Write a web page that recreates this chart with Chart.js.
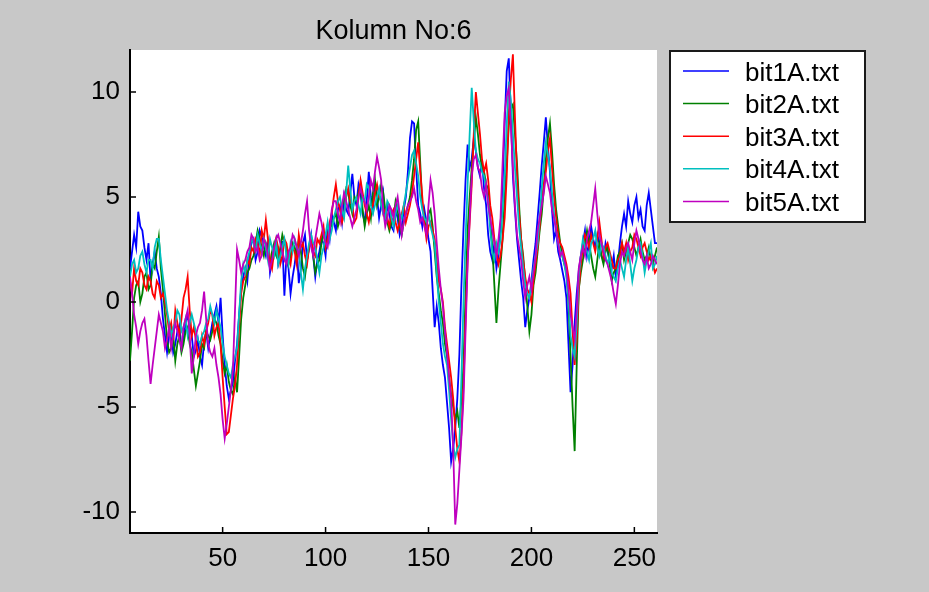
<!DOCTYPE html>
<html>
<head>
<meta charset="utf-8">
<title>Kolumn No:6</title>
<script src="https://cdn.jsdelivr.net/npm/chart.js"></script>
<style>
    html, body {
        margin: 0;
        padding: 0;
        background: #c8c8c8;
    }

    #chart {
        display: block;
    }
</style>
</head>
<body>
<canvas id="chart" width="929" height="592"></canvas>

<script>
    // texts and ticks
    const chartTitle = 'Kolumn No:6';
    const seriesNames = ['bit1A.txt', 'bit2A.txt', 'bit3A.txt', 'bit4A.txt', 'bit5A.txt'];
    const seriesColors = ['#0000ff', '#008000', '#ff0000', '#00bfbf', '#bf00bf'];
    const xTicks = [50, 100, 150, 200, 250];
    const yTicks = [-10, -5, 0, 5, 10];

    // one value per sample index, first sample shown is index 5 (10 per row)
    const sampleStart = 5;

    const bit1A = [
        1.6, 2.4, 3.2, 2.6, 4.3, 3.6, 3.4, 2.6, 2.0, 2.8,
        1.0, 1.8, 2.4, 1.6, 1.2, 0.4, -0.8, -1.6, -2.4, -1.6,
        -1.4, -2.4, -2.0, -1.4, -1.1, -2.2, -1.8, -1.0, -0.6, -1.2,
        -1.6, -2.6, -2.3, -1.8, -2.6, -3.0, -1.9, -1.4, -2.2, -1.6,
        -1.0, -0.6, -0.2, -1.0, 0.2, -1.6, -3.0, -4.0, -4.6, -4.2,
        -3.8, -2.8, -2.0, -0.6, 0.6, 1.2, 1.6, 1.0, 2.2, 2.8,
        3.0, 2.0, 2.4, 3.4, 3.1, 2.6, 2.2, 2.8, 1.4, 2.0,
        2.6, 3.0, 1.8, 2.2, 2.9, 0.3, 2.2, 1.6, 0.4, 1.2,
        1.8, 2.6, 0.9, 1.6, 2.8, 3.2, 2.0, 2.6, 3.2, 2.2,
        1.2, 2.0, 2.4, 3.0, 2.8, 2.2, 3.6, 3.0, 4.2, 3.8,
        3.4, 4.4, 4.6, 3.8, 5.0, 4.4, 4.2, 5.2, 6.1, 5.0,
        4.6, 5.6, 5.2, 4.2, 3.8, 4.8, 6.2, 5.0, 4.4, 5.6,
        5.0, 4.0, 4.6, 5.2, 3.8, 4.6, 4.2, 3.6, 3.4, 4.4,
        4.0, 3.2, 3.6, 4.4, 5.0, 6.2, 7.8, 8.6, 8.5, 6.4,
        4.6, 4.2, 3.6, 4.4, 3.8, 3.0, 2.4, 0.6, -1.2, -0.2,
        -1.0, -2.2, -3.0, -3.6, -4.8, -6.0, -7.6, -7.0, -6.0, -4.6,
        -2.5, 0.8, 3.5, 5.8, 7.5, 6.4, 6.8, 7.8, 7.2, 6.4,
        6.0, 6.8, 5.4, 4.6, 3.2, 2.4, 2.0, 2.8, 1.6, 2.2,
        3.5, 5.6, 8.5, 11.0, 11.6, 9.0, 6.0, 4.4, 3.0, 2.0,
        1.0, 0.2, -1.2, -0.4, 0.2, 1.0, 2.0, 2.8, 4.0, 5.2,
        6.5, 7.6, 8.8, 7.4, 6.2, 4.4, 3.0, 3.4, 2.4, 2.0,
        1.5, 1.0, 0.2, -2.0, -4.3, -3.0, -1.0, 0.4, 1.5, 2.2,
        2.8, 3.4, 2.2, 2.8, 3.6, 3.0, 2.6, 3.2, 2.8, 2.2,
        2.0, 2.8, 2.4, 2.0, 1.6, 2.2, 1.2, 1.8, 2.8, 3.6,
        4.2, 3.6, 4.8, 4.2, 3.8, 4.6, 5.0, 4.0, 4.4, 3.6,
        3.4, 4.6, 5.2, 4.4, 3.6, 2.8, 2.8
    ];
    const bit2A = [
        -2.8, -1.4, 0.2, 0.8, 1.0, 0.0, 0.4, 1.2, 1.4, 0.6,
        0.8, 1.8, 1.6, 2.4, 3.1, 1.6, 0.6, -0.6, -1.8, -2.4,
        -2.2, -1.6, -2.8, -2.0, -1.6, -2.4, -2.0, -1.4, -1.2, -2.0,
        -2.4, -3.2, -4.0, -3.4, -2.8, -2.0, -2.2, -1.4, -1.6, -1.8,
        -1.4, -0.8, -1.0, -1.6, -2.0, -2.8, -3.4, -3.0, -3.8, -4.2,
        -4.4, -3.6, -4.3, -2.6, -0.8, 0.2, 0.8, 1.4, 1.6, 2.0,
        2.2, 2.8, 3.4, 3.0, 2.6, 2.2, 2.8, 2.4, 1.8, 2.4,
        2.8, 2.2, 2.0, 2.6, 3.2, 2.8, 2.6, 1.8, 2.2, 2.8,
        2.6, 2.2, 3.0, 2.4, 1.6, 1.2, 2.0, 2.6, 3.0, 2.2,
        1.4, 1.8, 2.0, 2.8, 3.4, 2.6, 3.0, 3.6, 3.6, 4.0,
        4.2, 3.6, 4.0, 4.6, 4.8, 5.4, 5.2, 4.6, 4.2, 5.0,
        4.8, 5.2, 5.6, 4.4, 3.6, 4.2, 4.6, 4.0, 5.2, 5.8,
        4.6, 5.0, 5.6, 5.2, 4.4, 3.8, 3.4, 3.8, 4.0, 4.8,
        4.4, 3.6, 3.2, 3.8, 4.2, 4.6, 5.0, 5.8, 6.8, 8.2,
        8.6, 6.6, 4.6, 4.0, 3.6, 4.2, 4.4, 3.6, 2.4, 1.2,
        0.4, -0.4, -1.0, -2.0, -2.6, -3.6, -4.4, -5.0, -5.6, -5.2,
        -6.0, -4.6, -3.0, 0.4, 3.4, 5.0, 6.4, 7.6, 8.8, 8.0,
        7.0, 6.4, 6.2, 5.6, 5.4, 4.0, 2.6, 0.8, -1.0, 0.6,
        1.8, 3.0, 5.0, 6.6, 8.4, 9.2, 9.4, 8.0, 6.6, 4.6,
        3.0, 2.2, 1.0, -0.2, -1.4, -0.6, 0.8, 1.4, 2.4, 3.4,
        4.2, 5.4, 6.8, 7.8, 8.5, 7.2, 5.6, 4.4, 3.6, 2.8,
        2.2, 1.8, 1.4, 0.0, -2.5, -5.0, -7.1, -3.0, 0.6, 1.4,
        2.0, 2.8, 3.4, 2.8, 2.2, 1.6, 1.2, 2.0, 2.8, 2.2,
        1.8, 2.4, 2.6, 1.8, 1.0, 1.4, 1.6, 2.2, 2.4, 2.8,
        2.0, 2.4, 2.8, 3.2, 3.0, 2.6, 2.2, 2.6, 3.0, 2.4,
        2.0, 2.2, 2.6, 2.0, 1.8, 2.2, 2.6
    ];
    const bit3A = [
        1.0, 0.4, 1.6, 1.0, 0.8, 1.6, 1.4, 0.8, 0.6, 1.2,
        1.0, 0.4, 0.2, 1.0, 0.8, 0.2, 0.4, 0.0, -0.6, -1.4,
        -1.0, -1.8, -0.4, -1.0, -1.6, -0.8, 0.2, 0.6, 1.2, -0.4,
        -1.6, -1.2, -1.8, -2.6, -2.4, -1.6, -2.0, -1.4, -1.0, -0.4,
        -0.6, -1.6, -1.2, -1.0, -2.0, -3.6, -5.0, -6.3, -6.2, -5.4,
        -4.6, -4.0, -3.0, -1.2, 0.4, 1.0, 1.2, 2.0, 1.8, 2.6,
        2.4, 3.0, 2.8, 2.2, 3.4, 3.0, 3.9, 3.0, 2.0, 1.6,
        2.4, 3.0, 2.6, 1.8, 2.2, 3.0, 2.8, 2.2, 1.8, 2.6,
        2.4, 1.8, 3.2, 2.6, 2.8, 2.2, 1.8, 2.6, 3.0, 2.4,
        2.2, 3.0, 2.8, 3.2, 3.6, 2.6, 3.0, 3.8, 4.2, 5.0,
        5.6, 4.8, 4.4, 3.8, 4.2, 5.0, 5.4, 4.8, 4.6, 3.8,
        4.0, 5.0, 5.8, 5.2, 4.6, 4.2, 3.8, 4.4, 4.6, 5.2,
        5.6, 5.0, 4.8, 4.2, 4.4, 4.0, 3.6, 4.2, 4.4, 3.8,
        3.4, 3.8, 4.2, 4.6, 3.8, 4.2, 4.6, 5.2, 6.0, 6.8,
        7.6, 6.2, 5.0, 3.8, 3.0, 3.6, 3.8, 3.4, 3.0, 2.0,
        1.0, 0.6, 0.0, -1.2, -2.0, -2.8, -3.6, -4.6, -6.0, -7.0,
        -7.6, -6.2, -4.0, -0.8, 2.0, 3.8, 5.6, 8.0, 10.0, 9.0,
        8.0, 6.8, 6.2, 6.6, 5.8, 4.6, 4.0, 3.0, 2.4, 1.8,
        2.2, 3.0, 4.0, 6.0, 9.0, 10.6, 11.8, 8.8, 6.0, 4.2,
        3.0, 2.0, 1.2, 0.6, 0.4, 0.0, 1.0, 1.8, 2.6, 3.6,
        4.8, 5.6, 6.2, 7.2, 7.8, 6.4, 5.0, 4.0, 3.2, 2.8,
        2.6, 2.2, 1.8, 1.2, 0.4, -1.4, -3.0, -1.8, 0.6, 1.8,
        2.6, 3.2, 3.0, 2.6, 3.2, 2.8, 2.4, 3.0, 3.8, 3.0,
        2.2, 2.6, 2.8, 2.4, 2.0, 1.6, 1.6, 2.0, 2.2, 2.8,
        2.4, 2.8, 2.0, 2.4, 2.6, 3.2, 3.0, 2.6, 2.2, 2.6,
        2.8, 2.4, 2.0, 2.2, 1.8, 1.4, 1.6
    ];
    const bit4A = [
        1.2, 1.8, 2.0, 1.4, 1.6, 2.2, 2.4, 1.8, 1.4, 2.0,
        2.0, 1.6, 2.6, 3.0, 3.0, 2.0, 1.2, 0.4, -0.4, -1.0,
        -1.6, -1.2, -1.0, -0.4, -0.6, -1.4, -1.2, -0.8, -1.6, -1.0,
        -0.6, -1.0, -1.4, -1.8, -2.0, -1.6, -1.4, -1.0, -0.8, -0.2,
        -0.6, -1.0, -0.4, -0.8, -1.2, -2.0, -2.6, -3.0, -3.4, -3.6,
        -3.0, -2.6, -2.2, -0.6, 1.0, 1.8, 1.4, 2.0, 2.4, 3.0,
        2.8, 2.4, 3.2, 2.8, 2.4, 3.0, 2.6, 2.0, 3.0, 2.6,
        2.2, 2.8, 1.8, 2.2, 2.6, 3.0, 2.2, 1.8, 2.8, 2.4,
        3.0, 2.6, 2.4, 1.4, 0.6, 1.6, 2.2, 2.8, 3.2, 2.8,
        2.6, 2.0, 1.4, 2.2, 2.6, 3.2, 3.8, 3.0, 3.4, 4.0,
        4.4, 4.8, 5.0, 4.4, 4.0, 5.2, 6.5, 5.4, 4.4, 4.8,
        5.0, 4.6, 4.2, 5.0, 4.8, 5.6, 5.4, 4.6, 4.2, 4.6,
        5.0, 5.4, 4.6, 4.2, 4.0, 4.8, 4.6, 4.0, 3.6, 4.2,
        4.6, 4.2, 4.0, 4.6, 5.2, 5.8, 6.4, 7.0, 7.2, 6.6,
        6.0, 5.0, 4.4, 4.0, 3.8, 4.2, 3.6, 3.2, 2.8, 1.4,
        0.0, -1.0, -2.0, -2.6, -3.0, -4.2, -5.6, -6.8, -7.4, -7.0,
        -6.8, -3.6, 0.0, 3.0, 5.6, 8.0, 10.2, 8.6, 7.2, 6.8,
        6.6, 6.2, 6.0, 5.4, 4.8, 3.4, 2.4, 2.0, 2.8, 2.4,
        3.0, 4.4, 6.0, 8.4, 10.5, 9.6, 8.0, 6.4, 5.0, 3.6,
        2.6, 1.6, 0.8, 0.4, 0.2, 0.8, 1.6, 2.2, 2.8, 4.0,
        5.4, 6.6, 7.6, 7.0, 6.4, 5.2, 4.2, 3.4, 2.8, 2.4,
        2.2, 1.8, 1.2, 0.2, -1.6, -2.2, -2.6, -1.0, 1.2, 2.2,
        3.0, 2.6, 2.4, 2.0, 2.8, 3.0, 3.4, 2.6, 2.2, 2.8,
        2.6, 2.2, 1.8, 2.2, 1.4, 1.2, 1.0, 1.6, 2.0, 1.6,
        1.2, 2.0, 2.6, 1.8, 1.0, 1.6, 2.0, 2.6, 2.8, 2.2,
        1.4, 2.0, 2.4, 2.8, 1.6, 1.8, 2.2
    ];
    const bit5A = [
        1.2, 0.4, -0.6, -1.2, -2.0, -1.4, -1.0, -0.8, -1.6, -2.8,
        -3.9, -3.0, -2.2, -1.4, -0.6, -1.0, -1.4, -2.2, -1.8, -1.2,
        -2.2, -1.6, -1.0, -1.4, -1.8, -2.2, -1.2, -0.8, -0.4, -1.6,
        -3.4, -2.6, -1.6, -1.2, -1.0, -0.4, 0.5, -0.8, -2.0, -2.4,
        -2.6, -2.2, -3.0, -3.6, -4.4, -5.6, -6.5, -5.8, -5.0, -4.2,
        -3.2, -0.4, 2.5, 2.0, 1.4, 1.8, 2.0, 2.4, 2.6, 3.2,
        3.0, 2.4, 2.6, 2.0, 2.2, 3.0, 2.8, 2.2, 1.6, 2.0,
        2.6, 3.0, 3.2, 2.8, 2.4, 2.0, 1.8, 2.4, 2.6, 3.2,
        3.0, 2.6, 2.2, 2.8, 3.4, 4.2, 4.8, 3.4, 2.6, 2.2,
        3.0, 3.6, 4.2, 3.8, 3.2, 2.8, 2.6, 3.4, 4.4, 4.8,
        4.8, 4.2, 3.8, 4.6, 5.2, 4.8, 4.4, 4.0, 3.6, 4.0,
        4.4, 5.0, 5.4, 5.0, 4.8, 4.4, 5.0, 5.8, 5.4, 6.2,
        6.9, 6.4, 5.8, 4.4, 3.6, 4.0, 4.6, 4.4, 4.0, 4.6,
        5.0, 4.2, 3.2, 3.8, 4.2, 4.6, 4.8, 5.0, 5.4, 4.8,
        4.4, 3.8, 4.0, 3.6, 3.2, 4.6, 5.8, 5.2, 4.2, 2.8,
        1.6, 0.6, -0.2, -1.4, -2.4, -3.6, -4.6, -7.0, -10.6, -9.6,
        -8.0, -6.4, -4.6, -1.4, 1.8, 4.0, 6.0, 6.8, 7.0, 6.4,
        6.2, 5.4, 5.0, 5.6, 4.6, 4.0, 3.4, 2.8, 2.2, 3.0,
        4.0, 6.6, 9.0, 9.8, 10.2, 8.4, 6.4, 4.6, 3.2, 2.6,
        2.0, 1.0, 0.2, 0.8, 1.2, 0.6, 1.4, 2.2, 3.4, 4.0,
        4.6, 5.2, 6.0, 5.6, 5.2, 4.4, 4.0, 3.4, 2.8, 2.2,
        2.4, 2.0, 1.6, 0.6, -0.6, -1.2, -1.8, -0.4, 1.6, 2.2,
        2.6, 2.2, 3.0, 3.4, 3.8, 4.6, 5.4, 4.2, 3.2, 2.8,
        2.4, 2.0, 1.8, 1.4, 1.0, 0.4, -0.1, 0.8, 1.8, 2.4,
        2.2, 2.6, 2.8, 2.4, 2.0, 2.8, 3.4, 3.0, 2.4, 2.0,
        1.8, 2.2, 1.6, 1.8, 2.2, 2.0, 1.8
    ];

    const allSeries = [bit1A, bit2A, bit3A, bit4A, bit5A];
    const FONT = '"Liberation Sans", Arial, sans-serif';

    // white plot box, inward ticks, title and boxed legend (matlab look)
    const matlabLook = {
        id: 'matlabLook',
        beforeDraw(chart) {
            const a = chart.chartArea;
            const ctx = chart.ctx;
            ctx.save();
            ctx.fillStyle = '#ffffff';
            ctx.fillRect(a.left, a.top, a.right - a.left, a.bottom - a.top);
            ctx.restore();
        },
        afterDraw(chart) {
            const a = chart.chartArea;
            const ctx = chart.ctx;
            const xs = chart.scales.x;
            const ys = chart.scales.y;
            ctx.save();

            ctx.strokeStyle = '#000000';
            ctx.lineWidth = 1.5;
            ctx.beginPath();
            xs.ticks.forEach(t => {
                const px = xs.getPixelForValue(t.value);
                ctx.moveTo(px, a.bottom);
                ctx.lineTo(px, a.bottom - 6);
            });
            ys.ticks.forEach(t => {
                const py = ys.getPixelForValue(t.value);
                ctx.moveTo(a.left, py);
                ctx.lineTo(a.left + 6, py);
            });
            ctx.stroke();

            ctx.fillStyle = '#000000';
            ctx.font = '27px ' + FONT;
            ctx.textAlign = 'center';
            ctx.textBaseline = 'alphabetic';
            ctx.fillText(chartTitle, (a.left + a.right) / 2, 39);

            // legend
            const bx = a.right + 13, by = a.top + 1, bw = 195, bh = 171;
            ctx.fillStyle = '#ffffff';
            ctx.fillRect(bx, by, bw, bh);
            ctx.strokeStyle = '#1a1a1a';
            ctx.lineWidth = 2;
            ctx.strokeRect(bx, by, bw, bh);
            ctx.font = '26px ' + FONT;
            ctx.textAlign = 'left';
            seriesNames.forEach((name, i) => {
                const ry = by + 20 + i * 32.6;
                ctx.strokeStyle = seriesColors[i];
                ctx.lineWidth = 1.5;
                ctx.beginPath();
                ctx.moveTo(bx + 13, ry);
                ctx.lineTo(bx + 59, ry);
                ctx.stroke();
                ctx.fillStyle = '#000000';
                ctx.fillText(name, bx + 75, ry + 9.5);
            });
            ctx.restore();
        }
    };

    const datasets = allSeries.map((values, i) => ({
        label: seriesNames[i],
        data: values.map((v, k) => ({ x: sampleStart + k, y: v })),
        borderColor: seriesColors[i],
        borderWidth: 1.8,
        pointRadius: 0,
        fill: false,
        tension: 0,
        order: allSeries.length - i  // last file drawn on top
    }));

    const chart = new Chart(document.getElementById('chart'), {
        type: 'line',
        data: { datasets: datasets },
        plugins: [matlabLook],
        options: {
            responsive: false,
            animation: false,
            layout: { padding: { left: 0, top: 50, right: 272, bottom: 0 } },
            plugins: {
                legend: { display: false },
                tooltip: { enabled: false }
            },
            scales: {
                x: {
                    type: 'linear',
                    min: 5,
                    max: 261,
                    afterFit: s => { s.height = 59; },
                    afterBuildTicks: s => { s.ticks = xTicks.map(v => ({ value: v })); },
                    grid: { drawOnChartArea: false, drawTicks: false },
                    border: { color: '#000000', width: 2 },
                    ticks: { color: '#000000', font: { family: FONT, size: 26 }, padding: 10, maxRotation: 0, autoSkip: false }
                },
                y: {
                    type: 'linear',
                    min: -11,
                    max: 12,
                    afterFit: s => { s.width = 130; },
                    afterBuildTicks: s => { s.ticks = yTicks.map(v => ({ value: v })); },
                    grid: { drawOnChartArea: false, drawTicks: false },
                    border: { color: '#000000', width: 2 },
                    ticks: { color: '#000000', font: { family: FONT, size: 26 }, padding: 10, autoSkip: false }
                }
            }
        }
    });
</script>
</body>
</html>
